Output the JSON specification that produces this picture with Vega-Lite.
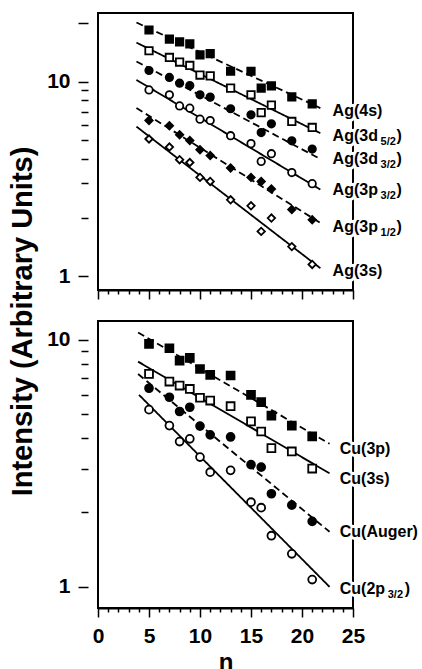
{
  "$schema": "https://vega.github.io/schema/vega-lite/v6.json",
  "padding": {"left": 6, "top": 10, "right": 0, "bottom": 0},
  "spacing": 31,
  "bounds": "flush",
  "config": {
    "view": {"stroke": "black", "strokeWidth": 2},
    "font": "Liberation Sans",
    "axis": {
      "domainColor": "black", "domainWidth": 2, "tickColor": "black", "tickWidth": 1.5,
      "labelColor": "black", "labelFont": "Liberation Sans", "labelFontWeight": "bold", "labelFontSize": 21,
      "titleColor": "black", "titleFont": "Liberation Sans", "titleFontWeight": "bold",
      "grid": false, "labelOverlap": false, "labelFlush": false, "labelBound": false
    }
  },
  "resolve": {"scale": {"x": "independent", "y": "independent", "shape": "independent", "fill": "independent", "size": "independent", "strokeDash": "independent"}},
  "datasets": {
    "agPoints": [
      {"series": "4s", "n": 5, "value": 18.4}, {"series": "4s", "n": 7, "value": 16.5}, {"series": "4s", "n": 8, "value": 16.0}, {"series": "4s", "n": 9, "value": 15.6}, {"series": "4s", "n": 10, "value": 13.7}, {"series": "4s", "n": 11, "value": 13.9}, {"series": "4s", "n": 13, "value": 11.3}, {"series": "4s", "n": 15, "value": 11.3}, {"series": "4s", "n": 16, "value": 9.25}, {"series": "4s", "n": 17, "value": 9.5}, {"series": "4s", "n": 19, "value": 8.35}, {"series": "4s", "n": 21, "value": 7.69},
      {"series": "3d52", "n": 5, "value": 14.4}, {"series": "3d52", "n": 7, "value": 13.3}, {"series": "3d52", "n": 8, "value": 12.6}, {"series": "3d52", "n": 9, "value": 12.1}, {"series": "3d52", "n": 10, "value": 10.8}, {"series": "3d52", "n": 11, "value": 10.7}, {"series": "3d52", "n": 13, "value": 9.25}, {"series": "3d52", "n": 15, "value": 8.55}, {"series": "3d52", "n": 16, "value": 6.93}, {"series": "3d52", "n": 17, "value": 7.57}, {"series": "3d52", "n": 19, "value": 6.24}, {"series": "3d52", "n": 21, "value": 5.81},
      {"series": "3d32", "n": 5, "value": 11.4}, {"series": "3d32", "n": 7, "value": 10.5}, {"series": "3d32", "n": 8, "value": 9.81}, {"series": "3d32", "n": 9, "value": 9.54}, {"series": "3d32", "n": 10, "value": 8.55}, {"series": "3d32", "n": 11, "value": 8.32}, {"series": "3d32", "n": 13, "value": 7.25}, {"series": "3d32", "n": 15, "value": 6.75}, {"series": "3d32", "n": 16, "value": 5.47}, {"series": "3d32", "n": 17, "value": 6.07}, {"series": "3d32", "n": 19, "value": 4.96}, {"series": "3d32", "n": 21, "value": 4.5},
      {"series": "3p32", "n": 5, "value": 9.06}, {"series": "3p32", "n": 7, "value": 8.55}, {"series": "3p32", "n": 8, "value": 7.5}, {"series": "3p32", "n": 9, "value": 7.3}, {"series": "3p32", "n": 10, "value": 6.41}, {"series": "3p32", "n": 11, "value": 6.31}, {"series": "3p32", "n": 13, "value": 5.27}, {"series": "3p32", "n": 15, "value": 4.8}, {"series": "3p32", "n": 16, "value": 3.89}, {"series": "3p32", "n": 17, "value": 4.26}, {"series": "3p32", "n": 19, "value": 3.41}, {"series": "3p32", "n": 21, "value": 2.99},
      {"series": "3p12", "n": 5, "value": 6.31}, {"series": "3p12", "n": 7, "value": 5.93}, {"series": "3p12", "n": 8, "value": 5.33}, {"series": "3p12", "n": 9, "value": 4.98}, {"series": "3p12", "n": 10, "value": 4.47}, {"series": "3p12", "n": 11, "value": 4.17}, {"series": "3p12", "n": 13, "value": 3.6}, {"series": "3p12", "n": 15, "value": 3.22}, {"series": "3p12", "n": 16, "value": 3.07}, {"series": "3p12", "n": 17, "value": 2.81}, {"series": "3p12", "n": 19, "value": 2.2}, {"series": "3p12", "n": 21, "value": 1.95},
      {"series": "3s", "n": 5, "value": 5.07}, {"series": "3s", "n": 7, "value": 4.61}, {"series": "3s", "n": 8, "value": 3.97}, {"series": "3s", "n": 9, "value": 3.84}, {"series": "3s", "n": 10, "value": 3.22}, {"series": "3s", "n": 11, "value": 3.07}, {"series": "3s", "n": 13, "value": 2.47}, {"series": "3s", "n": 15, "value": 2.3}, {"series": "3s", "n": 16, "value": 1.7}, {"series": "3s", "n": 17, "value": 1.99}, {"series": "3s", "n": 19, "value": 1.42}, {"series": "3s", "n": 21, "value": 1.15}
    ],
    "agLines": [
      {"series": "4s", "n": 3.77, "value": 20.1}, {"series": "4s", "n": 21.8, "value": 7.31},
      {"series": "3d52", "n": 3.77, "value": 15.85}, {"series": "3d52", "n": 21.8, "value": 5.43},
      {"series": "3d32", "n": 3.77, "value": 12.68}, {"series": "3d32", "n": 21.8, "value": 4.0},
      {"series": "3p32", "n": 3.77, "value": 10.2}, {"series": "3p32", "n": 21.8, "value": 2.79},
      {"series": "3p12", "n": 3.77, "value": 7.31}, {"series": "3p12", "n": 21.8, "value": 1.88},
      {"series": "3s", "n": 3.77, "value": 5.87}, {"series": "3s", "n": 21.8, "value": 1.10}
    ],
    "agLabels": [
      {"series": "4s", "n": 23, "value": 7.02, "main": "Ag(4s)", "sub": "", "close": ""},
      {"series": "3d52", "n": 23, "value": 5.27, "main": "Ag(3d", "sub": "5/2", "close": ")"},
      {"series": "3d32", "n": 23, "value": 4.01, "main": "Ag(3d", "sub": "3/2", "close": ")"},
      {"series": "3p32", "n": 23, "value": 2.78, "main": "Ag(3p", "sub": "3/2", "close": ")"},
      {"series": "3p12", "n": 23, "value": 1.80, "main": "Ag(3p", "sub": "1/2", "close": ")"},
      {"series": "3s", "n": 23, "value": 1.07, "main": "Ag(3s)", "sub": "", "close": ""}
    ],
    "cuPoints": [
      {"series": "3p", "n": 5, "value": 9.61}, {"series": "3p", "n": 7, "value": 9.23}, {"series": "3p", "n": 8, "value": 8.23}, {"series": "3p", "n": 9, "value": 8.44}, {"series": "3p", "n": 10, "value": 7.61}, {"series": "3p", "n": 11, "value": 7.2}, {"series": "3p", "n": 13, "value": 7.16}, {"series": "3p", "n": 15, "value": 5.98}, {"series": "3p", "n": 16, "value": 5.59}, {"series": "3p", "n": 17, "value": 4.93}, {"series": "3p", "n": 19, "value": 4.49}, {"series": "3p", "n": 21, "value": 4.06},
      {"series": "3s", "n": 5, "value": 7.27}, {"series": "3s", "n": 7, "value": 6.77}, {"series": "3s", "n": 8, "value": 6.52}, {"series": "3s", "n": 9, "value": 6.32}, {"series": "3s", "n": 10, "value": 5.82}, {"series": "3s", "n": 11, "value": 5.67}, {"series": "3s", "n": 13, "value": 5.38}, {"series": "3s", "n": 15, "value": 4.67}, {"series": "3s", "n": 16, "value": 4.25}, {"series": "3s", "n": 17, "value": 3.64}, {"series": "3s", "n": 19, "value": 3.53}, {"series": "3s", "n": 21, "value": 3.01},
      {"series": "auger", "n": 5, "value": 6.36}, {"series": "auger", "n": 7, "value": 5.85}, {"series": "auger", "n": 8, "value": 5.12}, {"series": "auger", "n": 9, "value": 5.33}, {"series": "auger", "n": 10, "value": 4.47}, {"series": "auger", "n": 11, "value": 4.12}, {"series": "auger", "n": 13, "value": 4.04}, {"series": "auger", "n": 15, "value": 3.12}, {"series": "auger", "n": 16, "value": 3.05}, {"series": "auger", "n": 17, "value": 2.38}, {"series": "auger", "n": 19, "value": 2.14}, {"series": "auger", "n": 21, "value": 1.84},
      {"series": "2p32", "n": 5, "value": 5.21}, {"series": "2p32", "n": 7, "value": 4.49}, {"series": "2p32", "n": 8, "value": 3.87}, {"series": "2p32", "n": 9, "value": 3.97}, {"series": "2p32", "n": 10, "value": 3.35}, {"series": "2p32", "n": 11, "value": 2.91}, {"series": "2p32", "n": 13, "value": 2.96}, {"series": "2p32", "n": 15, "value": 2.2}, {"series": "2p32", "n": 16, "value": 2.09}, {"series": "2p32", "n": 17, "value": 1.61}, {"series": "2p32", "n": 19, "value": 1.36}, {"series": "2p32", "n": 21, "value": 1.07}
    ],
    "cuLines": [
      {"series": "3p", "n": 3.93, "value": 10.7}, {"series": "3p", "n": 22.7, "value": 3.79},
      {"series": "3s", "n": 3.93, "value": 8.15}, {"series": "3s", "n": 22.7, "value": 2.88},
      {"series": "auger", "n": 3.93, "value": 7.26}, {"series": "auger", "n": 22.7, "value": 1.67},
      {"series": "2p32", "n": 4.02, "value": 5.98}, {"series": "2p32", "n": 22.7, "value": 1.0}
    ],
    "cuLabels": [
      {"series": "3p", "n": 23.7, "value": 3.62, "main": "Cu(3p)", "sub": "", "close": ""},
      {"series": "3s", "n": 23.7, "value": 2.72, "main": "Cu(3s)", "sub": "", "close": ""},
      {"series": "auger", "n": 23.7, "value": 1.67, "main": "Cu(Auger)", "sub": "", "close": ""},
      {"series": "2p32", "n": 23.7, "value": 0.984, "main": "Cu(2p", "sub": "3/2", "close": ")"}
    ]
  },
  "vconcat": [
    {
      "width": 255,
      "height": 277,
      "encoding": {
        "x": {"field": "n", "type": "quantitative", "scale": {"domain": [0, 25]},
          "axis": {"values": [0,1,2,3,4,5,6,7,8,9,10,11,12,13,14,15,16,17,18,19,20,21,22,23,24,25], "labels": false, "title": null,
            "tickSize": {"condition": {"test": "datum.value % 5 === 0", "value": 9}, "value": 4}}},
        "y": {"field": "value", "type": "quantitative", "scale": {"type": "log", "domain": [0.85, 22.5]},
          "axis": {"values": [1,2,3,4,5,6,7,8,9,10,20], "offset": 10, "domain": false, "title": null, "labelPadding": 8,
            "labelExpr": "datum.value === 10 ? '10' : datum.value === 1 ? '1' : ''",
            "tickSize": {"condition": {"test": "datum.value === 1 || datum.value === 10 || datum.value === 20", "value": 10}, "value": 7}}}
      },
      "layer": [
        {"data": {"values": [{}]}, "mark": {"type": "rule", "strokeWidth": 2, "color": "black"},
         "encoding": {"x": {"datum": -1}, "y": {"datum": 1}, "y2": {"datum": 20}}},
        {"data": {"name": "agLines"}, "mark": {"type": "line", "color": "black", "strokeWidth": 1.8},
         "encoding": {"detail": {"field": "series"},
           "strokeDash": {"field": "series", "type": "nominal", "legend": null,
             "scale": {"domain": ["4s","3d52","3d32","3p32","3p12","3s"], "range": [[7,4],[1,0],[7,4],[1,0],[7,4],[1,0]]}}}},
        {"data": {"name": "agPoints"}, "mark": {"type": "point", "stroke": "black", "strokeWidth": 1.8, "opacity": 1, "fillOpacity": 1},
         "encoding": {
           "shape": {"field": "series", "type": "nominal", "legend": null,
             "scale": {"domain": ["4s","3d52","3d32","3p32","3p12","3s"], "range": ["square","square","circle","circle","diamond","diamond"]}},
           "fill": {"field": "series", "type": "nominal", "legend": null,
             "scale": {"domain": ["4s","3d52","3d32","3p32","3p12","3s"], "range": ["black","white","black","white","black","white"]}},
           "size": {"field": "series", "type": "nominal", "legend": null,
             "scale": {"domain": ["4s","3d52","3d32","3p32","3p12","3s"], "range": [55,55,60,60,85,85]}}}},
        {"data": {"name": "agLabels"}, "mark": {"type": "text", "align": "left", "baseline": "middle", "font": "Liberation Sans", "fontWeight": "bold", "fontSize": 16, "fill": "white", "stroke": "white", "strokeWidth": 6, "strokeJoin": "round"},
         "encoding": {"text": {"field": "main"}}},
        {"data": {"name": "agLabels"}, "mark": {"type": "text", "align": "left", "baseline": "middle", "font": "Liberation Sans", "fontWeight": "bold", "fontSize": 11, "dx": 48, "dy": 6, "fill": "white", "stroke": "white", "strokeWidth": 6, "strokeJoin": "round"},
         "encoding": {"text": {"field": "sub"}}},
        {"data": {"name": "agLabels"}, "mark": {"type": "text", "align": "left", "baseline": "middle", "font": "Liberation Sans", "fontWeight": "bold", "fontSize": 16, "dx": 64, "fill": "white", "stroke": "white", "strokeWidth": 6, "strokeJoin": "round"},
         "encoding": {"text": {"field": "close"}}},
        {"data": {"name": "agLabels"}, "mark": {"type": "text", "align": "left", "baseline": "middle", "font": "Liberation Sans", "fontWeight": "bold", "fontSize": 16, "color": "black"},
         "encoding": {"text": {"field": "main"}}},
        {"data": {"name": "agLabels"}, "mark": {"type": "text", "align": "left", "baseline": "middle", "font": "Liberation Sans", "fontWeight": "bold", "fontSize": 11, "dx": 48, "dy": 6, "color": "black"},
         "encoding": {"text": {"field": "sub"}}},
        {"data": {"name": "agLabels"}, "mark": {"type": "text", "align": "left", "baseline": "middle", "font": "Liberation Sans", "fontWeight": "bold", "fontSize": 16, "dx": 64, "color": "black"},
         "encoding": {"text": {"field": "close"}}}
      ]
    },
    {
      "width": 255,
      "height": 287,
      "encoding": {
        "x": {"field": "n", "type": "quantitative", "scale": {"domain": [0, 25]},
          "axis": {"values": [0,1,2,3,4,5,6,7,8,9,10,11,12,13,14,15,16,17,18,19,20,21,22,23,24,25], "title": "n", "titleFontSize": 24, "titlePadding": 4, "labelPadding": 8,
            "labelExpr": "datum.value % 5 === 0 ? datum.label : ''",
            "tickSize": {"condition": {"test": "datum.value % 5 === 0", "value": 9}, "value": 4}}},
        "y": {"field": "value", "type": "quantitative", "scale": {"type": "log", "domain": [0.821, 11.9]},
          "axis": {"values": [1,2,3,4,5,6,7,8,9,10], "offset": 10, "domain": false, "labelPadding": 8,
            "title": "Intensity (Arbitrary Units)", "titleFontSize": 29, "titleAngle": -90, "titleX": -57, "titleY": 0, "titleAlign": "center", "titleBaseline": "alphabetic",
            "labelExpr": "datum.value === 10 ? '10' : datum.value === 1 ? '1' : ''",
            "tickSize": {"condition": {"test": "datum.value === 1 || datum.value === 10", "value": 10}, "value": 7}}}
      },
      "layer": [
        {"data": {"values": [{}]}, "mark": {"type": "rule", "strokeWidth": 2, "color": "black"},
         "encoding": {"x": {"datum": -1}, "y": {"datum": 1}, "y2": {"datum": 10}}},
        {"data": {"name": "cuLines"}, "mark": {"type": "line", "color": "black", "strokeWidth": 1.8},
         "encoding": {"detail": {"field": "series"},
           "strokeDash": {"field": "series", "type": "nominal", "legend": null,
             "scale": {"domain": ["3p","3s","auger","2p32"], "range": [[7,4],[1,0],[7,4],[1,0]]}}}},
        {"data": {"name": "cuPoints"}, "mark": {"type": "point", "stroke": "black", "strokeWidth": 1.8, "opacity": 1, "fillOpacity": 1},
         "encoding": {
           "shape": {"field": "series", "type": "nominal", "legend": null,
             "scale": {"domain": ["3p","3s","auger","2p32"], "range": ["square","square","circle","circle"]}},
           "fill": {"field": "series", "type": "nominal", "legend": null,
             "scale": {"domain": ["3p","3s","auger","2p32"], "range": ["black","white","black","white"]}},
           "size": {"field": "series", "type": "nominal", "legend": null,
             "scale": {"domain": ["3p","3s","auger","2p32"], "range": [62,62,68,68]}}}},
        {"data": {"name": "cuLabels"}, "mark": {"type": "text", "align": "left", "baseline": "middle", "font": "Liberation Sans", "fontWeight": "bold", "fontSize": 16, "fill": "white", "stroke": "white", "strokeWidth": 6, "strokeJoin": "round"},
         "encoding": {"text": {"field": "main"}}},
        {"data": {"name": "cuLabels"}, "mark": {"type": "text", "align": "left", "baseline": "middle", "font": "Liberation Sans", "fontWeight": "bold", "fontSize": 11, "dx": 48, "dy": 6, "fill": "white", "stroke": "white", "strokeWidth": 6, "strokeJoin": "round"},
         "encoding": {"text": {"field": "sub"}}},
        {"data": {"name": "cuLabels"}, "mark": {"type": "text", "align": "left", "baseline": "middle", "font": "Liberation Sans", "fontWeight": "bold", "fontSize": 16, "dx": 65, "fill": "white", "stroke": "white", "strokeWidth": 6, "strokeJoin": "round"},
         "encoding": {"text": {"field": "close"}}},
        {"data": {"name": "cuLabels"}, "mark": {"type": "text", "align": "left", "baseline": "middle", "font": "Liberation Sans", "fontWeight": "bold", "fontSize": 16, "color": "black"},
         "encoding": {"text": {"field": "main"}}},
        {"data": {"name": "cuLabels"}, "mark": {"type": "text", "align": "left", "baseline": "middle", "font": "Liberation Sans", "fontWeight": "bold", "fontSize": 11, "dx": 48, "dy": 6, "color": "black"},
         "encoding": {"text": {"field": "sub"}}},
        {"data": {"name": "cuLabels"}, "mark": {"type": "text", "align": "left", "baseline": "middle", "font": "Liberation Sans", "fontWeight": "bold", "fontSize": 16, "dx": 65, "color": "black"},
         "encoding": {"text": {"field": "close"}}}
      ]
    }
  ]
}
